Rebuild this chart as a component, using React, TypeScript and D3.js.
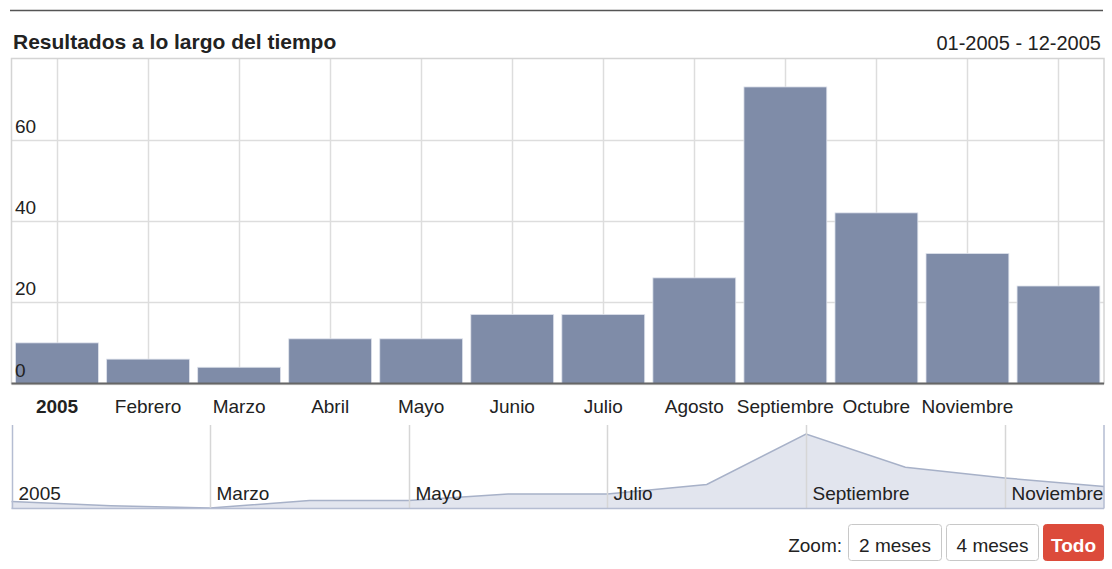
import React from "react";
import * as d3 from "d3";

const months = [
  "Enero", "Febrero", "Marzo", "Abril", "Mayo", "Junio",
  "Julio", "Agosto", "Septiembre", "Octubre", "Noviembre", "Diciembre",
];
const values = [10, 6, 4, 11, 11, 17, 17, 26, 73, 42, 32, 24];
// month labels under the bars (first is the year, December has none)
const axisLabels = [
  "2005", "Febrero", "Marzo", "Abril", "Mayo", "Junio",
  "Julio", "Agosto", "Septiembre", "Octubre", "Noviembre", "",
];
const yTicks = [0, 20, 40, 60];
const navMonths = ["Enero", "Marzo", "Mayo", "Julio", "Septiembre", "Noviembre"];
const navLabels = ["2005", "Marzo", "Mayo", "Julio", "Septiembre", "Noviembre"];
const zoomButtons = ["2 meses", "4 meses", "Todo"];

const W = 1112;
const H = 569;
const FONT = "'Liberation Sans', Arial, sans-serif";

const plot = { left: 11.5, right: 1104, top: 58.5, bottom: 383.5 };
const nav = { left: 11.5, right: 1104, top: 425, bottom: 508.5 };

export default function App() {
  const x = d3
    .scaleBand<string>()
    .domain(months)
    .range([plot.left, plot.right])
    .paddingInner(0.09)
    .paddingOuter(0.045);

  const y = d3.scaleLinear().domain([0, 80]).range([plot.bottom, plot.top]);

  const nx = d3.scalePoint<string>().domain(months).range([nav.left, nav.right]);
  const ext = d3.extent(values) as [number, number];
  const ny = d3.scaleLinear().domain(ext).range([nav.bottom - 0.5, 434]);

  const area = d3
    .area<number>()
    .x((_, i) => nx(months[i]) ?? 0)
    .y0(nav.bottom)
    .y1((d) => ny(d));
  const line = d3
    .line<number>()
    .x((_, i) => nx(months[i]) ?? 0)
    .y((d) => ny(d));

  // button geometry
  const btnW = [94, 93, 61];
  const btnX: number[] = [];
  let bx = 1104;
  for (let i = btnW.length - 1; i >= 0; i--) {
    bx -= btnW[i];
    btnX[i] = bx;
    bx -= 4;
  }

  return (
    <svg
      width={W}
      height={H}
      style={{ position: "absolute", left: 0, top: 0, background: "#fff" }}
      fontFamily={FONT}
    >
      {/* header rule */}
      <line x1={10} x2={1103} y1={10.5} y2={10.5} stroke="#555" strokeWidth={1.5} />

      <text x={13} y={49} fontSize={21} fontWeight="bold" fill="#222">
        Resultados a lo largo del tiempo
      </text>
      <text x={1101} y={50} fontSize={20} textAnchor="end" fill="#222">
        01-2005 - 12-2005
      </text>

      {/* vertical grid */}
      {months.map((m) => {
        const cx = Math.round((x(m) ?? 0) + x.bandwidth() / 2) + 0.5;
        return (
          <line key={"vg" + m} x1={cx} x2={cx} y1={plot.top} y2={plot.bottom} stroke="#ddd" strokeWidth={1.5} />
        );
      })}
      {/* horizontal grid */}
      {yTicks.map((t) => (
        <line key={"hg" + t} x1={plot.left} x2={plot.right} y1={Math.round(y(t)) + 0.5} y2={Math.round(y(t)) + 0.5} stroke="#ddd" strokeWidth={1.5} />
      ))}
      <rect
        x={plot.left}
        y={plot.top}
        width={plot.right - plot.left}
        height={plot.bottom - plot.top}
        fill="none"
        stroke="#d4d4d4"
        strokeWidth={1.5}
      />

      {/* bars */}
      {values.map((v, i) => (
        <rect
          key={"b" + i}
          x={x(months[i])}
          y={y(v)}
          width={x.bandwidth()}
          height={y(0) - y(v)}
          fill="#7f8ca8"
          stroke="#dfe3ec"
          strokeWidth={0.8}
        />
      ))}

      {/* y labels inside the plot */}
      {yTicks.map((t) => (
        <text key={"yl" + t} x={15} y={y(t) - 7} fontSize={19} fill="#222">
          {t}
        </text>
      ))}

      {/* axis line */}
      <line x1={plot.left} x2={plot.right} y1={plot.bottom} y2={plot.bottom} stroke="#666" strokeWidth={2} />

      {/* x labels */}
      {axisLabels.map((l, i) => (
        <text
          key={"xl" + i}
          x={(x(months[i]) ?? 0) + x.bandwidth() / 2}
          y={413}
          fontSize={19}
          textAnchor="middle"
          fontWeight={i === 0 ? "bold" : "normal"}
          fill="#222"
        >
          {l}
        </text>
      ))}

      {/* navigator */}
      <path d={area(values) ?? ""} fill="#e2e5ee" />
      <path d={line(values) ?? ""} fill="none" stroke="#a7b1c8" strokeWidth={1.5} />
      {navMonths.map((m, i) => {
        const px = Math.round(nx(m) ?? 0) + 0.5;
        return (
          <g key={"nv" + m}>
            <line
              x1={px}
              x2={px}
              y1={nav.top}
              y2={nav.bottom}
              stroke={i === 0 ? "#b5bdd2" : "#d6d6d6"}
              strokeWidth={1.5}
            />
            <text x={px + 6} y={500} fontSize={19} fill="#222">
              {navLabels[i]}
            </text>
          </g>
        );
      })}
      <line x1={nav.right} x2={nav.right} y1={nav.top} y2={nav.bottom} stroke="#b5bdd2" strokeWidth={1.5} />
      <line x1={nav.left} x2={nav.right} y1={nav.bottom} y2={nav.bottom} stroke="#b5bdd2" strokeWidth={1.5} />

      {/* zoom buttons */}
      <text x={842} y={552} fontSize={19} textAnchor="end" fill="#222">
        Zoom:
      </text>
      {zoomButtons.map((b, i) => {
        const active = i === zoomButtons.length - 1;
        return (
          <g key={b}>
            <rect
              x={btnX[i] + 0.5}
              y={524.5}
              width={btnW[i] - 1}
              height={36}
              rx={3}
              fill={active ? "#dc4b3b" : "#fff"}
              stroke={active ? "#dc4b3b" : "#c8c8c8"}
              strokeWidth={1}
            />
            <text
              x={btnX[i] + btnW[i] / 2}
              y={552}
              fontSize={19}
              textAnchor="middle"
              fill={active ? "#fff" : "#222"}
              fontWeight={active ? "bold" : "normal"}
            >
              {b}
            </text>
          </g>
        );
      })}
    </svg>
  );
}
